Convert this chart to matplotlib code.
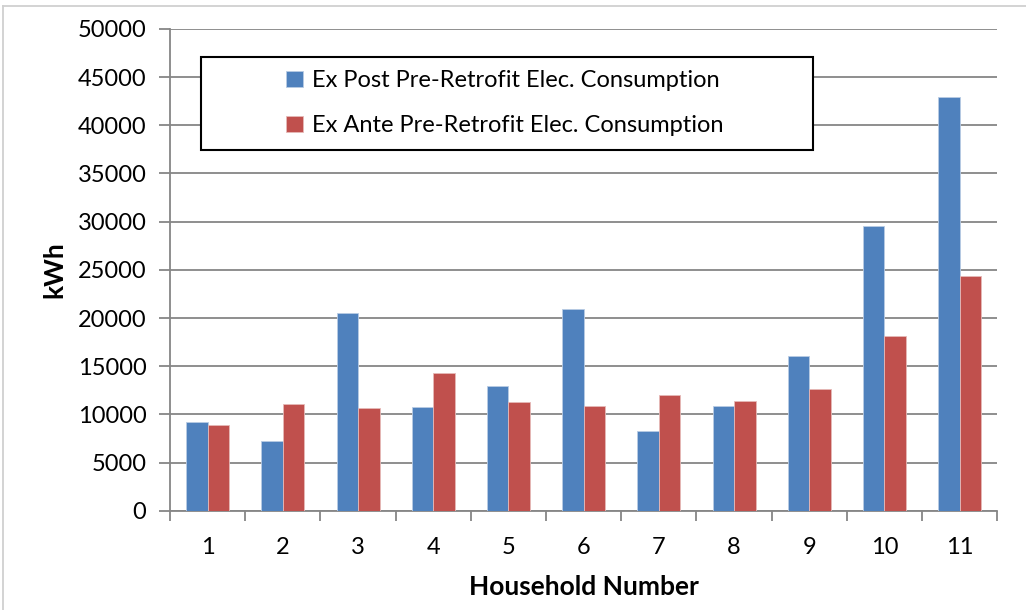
import numpy as np
import matplotlib
matplotlib.use('Agg')
import matplotlib.pyplot as plt
from matplotlib.patches import Rectangle
from matplotlib.lines import Line2D

plt.rcParams['font.family'] = ['Lato', 'DejaVu Sans']

households = ['1', '2', '3', '4', '5', '6', '7', '8', '9', '10', '11']
ex_post = [9200, 7250, 20550, 10750, 12950, 20950, 8270, 10870, 16100, 29550, 42950]
ex_ante = [8900, 11080, 10650, 14300, 11250, 10870, 12000, 11350, 12650, 18120, 24400]
yticks = [0, 5000, 10000, 15000, 20000, 25000, 30000, 35000, 40000, 45000, 50000]

BLUE = '#4F81BD'
RED = '#C0504D'
GRID = '#868686'

fig = plt.figure(figsize=(10.26, 6.1), dpi=100)
ax = fig.add_axes([0.1657, 0.1628, 0.8063, 0.7897])

x = np.arange(len(households))
w = 1 / 3.5
ax.bar(x - w / 2, ex_post, w, color=BLUE, edgecolor='#b8cce4', linewidth=0.6,
       label='Ex Post Pre-Retrofit Elec. Consumption', zorder=3)
ax.bar(x + w / 2, ex_ante, w, color=RED, edgecolor='#e6b9b8', linewidth=0.6,
       label='Ex Ante Pre-Retrofit Elec. Consumption', zorder=3)

ax.set_xlim(-0.5, len(households) - 0.5)
ax.set_ylim(0, 50000)
ax.set_yticks(yticks)
ax.set_yticklabels([str(v) for v in yticks], fontsize=17)
ax.yaxis.grid(True, color=GRID, linewidth=1.3, zorder=0)

# category labels in the middle, tick marks on the boundaries
ax.set_xticks(x)
ax.set_xticklabels(households, fontsize=17)
ax.tick_params(axis='x', length=0, pad=19)
ax.set_xticks(np.arange(len(households) + 1) - 0.5, minor=True)
ax.tick_params(axis='x', which='minor', length=7, width=1.3, color=GRID)
ax.tick_params(axis='y', length=8, width=1.3, color=GRID, pad=9)

for side in ['top', 'right']:
    ax.spines[side].set_visible(False)
for side in ['left', 'bottom']:
    ax.spines[side].set_color(GRID)
    ax.spines[side].set_linewidth(1.3)

ax.set_ylabel('kWh', fontsize=19, fontweight='bold', labelpad=8)
ax.set_xlabel('Household Number', fontsize=19, fontweight='bold', labelpad=12)

# legend box like the original
ax.add_patch(Rectangle((0.0371, 0.7488), 0.7397, 0.1937, transform=ax.transAxes,
                       facecolor='white', edgecolor='black', linewidth=1.5, zorder=4))
leg = ax.legend(loc='center', bbox_to_anchor=(0.405, 0.8457), frameon=False,
                fontsize=17, handlelength=0.7, handleheight=0.7,
                handletextpad=0.4, labelspacing=1.0)
leg.set_zorder(5)

# light chart-area border (top and left edges visible)
fig.add_artist(Line2D([0.003, 1.0], [0.99, 0.99], transform=fig.transFigure,
                      color='#d0d0d0', linewidth=1.3))
fig.add_artist(Line2D([0.003, 0.003], [0.0, 0.99], transform=fig.transFigure,
                      color='#d0d0d0', linewidth=1.3))

fig.savefig('out.png', dpi=100)
